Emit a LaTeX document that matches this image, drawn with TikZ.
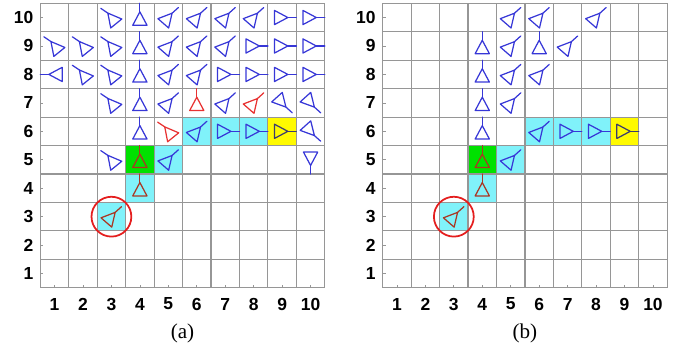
\documentclass[tikz,border=0pt]{standalone}
\usepackage{fontspec}
\setmainfont{Liberation Serif}
\newfontfamily\axisfont{Liberation Sans}
\definecolor{gridgray}{RGB}{150,150,150}
\definecolor{antblue}{RGB}{55,55,215}
\definecolor{antred}{RGB}{232,50,50}
\definecolor{antbrown}{RGB}{170,55,35}
\definecolor{antdark}{RGB}{60,60,110}
\definecolor{cellcyan}{RGB}{128,242,250}
\definecolor{cellgreen}{RGB}{0,225,0}
\definecolor{cellyellow}{RGB}{255,250,0}
\definecolor{ringred}{RGB}{228,30,30}
\tikzset{
  gridline/.style={draw=gridgray,line width=1.0pt},
  tickline/.style={draw=gridgray,line width=0.6pt},
  glyph/.style={line width=1.05pt,line join=round,line cap=round},
  ring/.style={draw=ringred,line width=1.5pt},
  ylab/.style={anchor=east,inner sep=0pt,font=\axisfont\bfseries\fontsize{14.9}{16}\selectfont},
  xlab/.style={inner sep=0pt,font=\axisfont\bfseries\fontsize{14.9}{16}\selectfont},
  caplab/.style={inner sep=0pt,font=\fontsize{18}{20}\selectfont},
  gU/.code={\def\axang{90}\def\linang{90}},
  gD/.code={\def\axang{-90}\def\linang{-90}},
  gR/.code={\def\axang{0}\def\linang{0}},
  gL/.code={\def\axang{180}\def\linang{180}},
  gNE/.code={\def\axang{49}\def\linang{42}},
  gNW/.code={\def\axang{129}\def\linang{146}},
  gSE/.code={\def\axang{-48}\def\linang{-42}},
  pics/ant/.style={code={
    \draw[glyph,rotate=\axang] (0.2,0) -- (-0.27,0.25) -- (-0.27,-0.25) -- cycle;
    \draw[glyph] (\axang:0.2) -- ++(\linang:0.3);
  }}
}
\newcommand\drawpanel[3]{%
  \begin{scope}[shift={(#1,64.2)},scale=28.45]
    \fill[cellcyan] (5,5) rectangle (8,6);
    \fill[cellcyan] (4,4) rectangle (5,5);
    \fill[cellcyan] (3,3) rectangle (4,4);
    \fill[cellcyan] (2,2) rectangle (3,3);
    \fill[cellgreen] (3,4) rectangle (4,5);
    \fill[cellyellow] (8,5) rectangle (9,6);
    \foreach \i in {0,...,10} {
      \draw[gridline] (\i,0) -- (\i,10);
      \draw[gridline] (0,\i) -- (10,\i);
    }
    \foreach \i in {1,...,10} {
      \draw[tickline] (\i-0.5,0) -- ++(0,0.1);
      \draw[tickline] (0,\i-0.5) -- ++(0.1,0);
      \node[ylab] (y\i) at (-0.24,\i-0.5) {\i};
      \node[xlab] (x\i) at (\i-0.5,-0.57) {\i};
    }
    \node[caplab] (cap) at (5,-1.62) {#2};
    \foreach \c/\r/\t/\k in {#3} {
      \pic[transform shape,\t,\k] at (\c-0.5,\r-0.5) {ant};
    }
    \draw[ring] (2.5,2.5) circle[radius=0.7];
  \end{scope}}
\begin{document}
\begin{tikzpicture}[x=0.03cm,y=0.03cm]
\useasboundingbox (0,0) rectangle (681,352);
\drawpanel{40.3}{(a)}{%
  3/10/gNW/antblue, 4/10/gU/antblue, 5/10/gNE/antblue, 6/10/gNE/antblue,
  7/10/gNE/antblue, 8/10/gNE/antblue, 9/10/gR/antblue, 10/10/gR/antblue,
  1/9/gNW/antblue, 2/9/gNW/antblue, 3/9/gNW/antblue, 4/9/gU/antblue,
  5/9/gNE/antblue, 6/9/gNE/antblue, 7/9/gNE/antblue, 8/9/gR/antblue,
  9/9/gR/antblue, 10/9/gR/antblue,
  1/8/gL/antblue, 2/8/gNW/antblue, 3/8/gNW/antblue, 4/8/gU/antblue,
  5/8/gNE/antblue, 6/8/gNE/antblue, 7/8/gR/antblue, 8/8/gR/antblue,
  9/8/gR/antblue, 10/8/gR/antblue,
  3/7/gNW/antblue, 4/7/gU/antblue, 5/7/gNE/antblue, 6/7/gU/antred,
  7/7/gNE/antblue, 8/7/gNE/antred, 9/7/gSE/antblue, 10/7/gSE/antblue,
  4/6/gU/antblue, 5/6/gNW/antred, 6/6/gNE/antblue, 7/6/gR/antblue,
  8/6/gR/antblue, 9/6/gR/antdark, 10/6/gSE/antblue,
  3/5/gNW/antblue, 4/5/gU/antbrown, 5/5/gNE/antblue, 10/5/gD/antblue,
  4/4/gU/antbrown, 3/3/gNE/antbrown}
\drawpanel{382.7}{(b)}{%
  5/10/gNE/antblue, 6/10/gNE/antblue, 8/10/gNE/antblue,
  4/9/gU/antblue, 5/9/gNE/antblue, 6/9/gU/antblue, 7/9/gNE/antblue,
  4/8/gU/antblue, 5/8/gNE/antblue, 6/8/gNE/antblue,
  4/7/gU/antblue, 5/7/gNE/antblue,
  4/6/gU/antblue, 6/6/gNE/antblue, 7/6/gR/antblue, 8/6/gR/antblue,
  9/6/gR/antdark,
  4/5/gU/antbrown, 5/5/gNE/antblue,
  4/4/gU/antbrown, 3/3/gNE/antbrown}
\end{tikzpicture}
\end{document}
